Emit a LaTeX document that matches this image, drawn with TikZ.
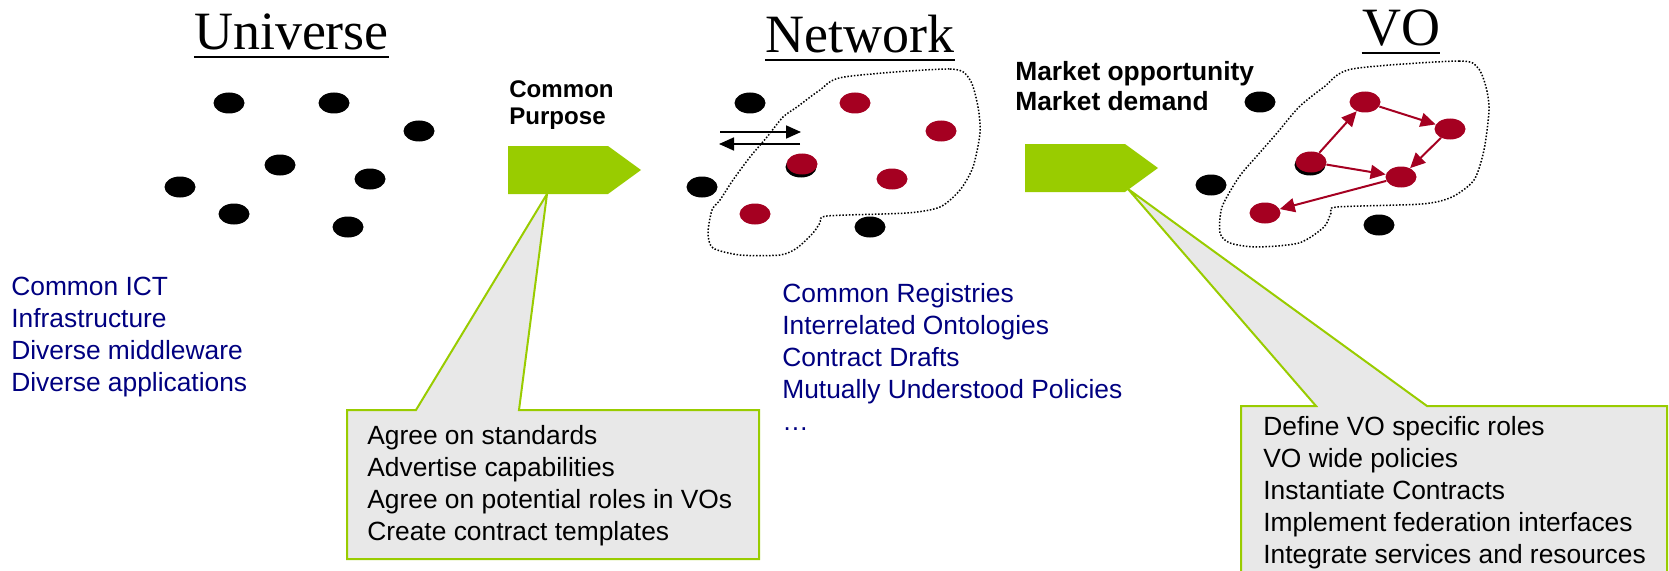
\documentclass[tikz,border=0pt]{standalone}
\usepackage{fontspec}
\setmainfont{Liberation Sans}
\newfontfamily\titlefont{Liberation Serif}
\usetikzlibrary{shapes.geometric,arrows.meta}

\definecolor{leaf}{RGB}{153,204,0}
\definecolor{wine}{RGB}{165,0,33}
\definecolor{navy}{RGB}{0,0,128}
\definecolor{bubble}{RGB}{232,232,232}

\begin{document}
\begin{tikzpicture}[x=0.2mm,y=-0.2mm,
    blackdot/.style={ellipse,fill=black,inner sep=0,minimum width=6.2mm,minimum height=4.2mm},
    reddot/.style={blackdot,fill=wine},
    heading/.style={font=\titlefont\fontsize{30.7}{36}\selectfont,inner sep=0,anchor=base},
    note/.style={font=\fontsize{15}{18.2}\selectfont,align=left,inner sep=0,anchor=base west},
    lead/.style={note,font=\bfseries\fontsize{15}{17.6}\selectfont},
    fence/.style={line width=0.3mm,dash pattern=on 0.3mm off 0.35mm},
    bubbleline/.style={fill=bubble,draw=leaf,line width=0.4mm},
    link/.style={wine,line width=0.4mm,-{Triangle[length=3mm,width=2.8mm]}},
    swap/.style={line width=0.35mm,-{Triangle[length=3mm,width=2.6mm]}}]
\useasboundingbox (0,0) rectangle (1669,571);

% callouts below the green arrows
\filldraw[bubbleline] (347,410) -- (416,410) -- (547,194) -- (519,410)
    -- (759,410) -- (759,559) -- (347,559) -- cycle;
\filldraw[bubbleline] (1241,406) -- (1316,406) -- (1128,189) -- (1427,406)
    -- (1667,406) -- (1667,590) -- (1241,590) -- cycle;

% green arrows
\fill[leaf] (508,146) -- (608,146) -- (641,170) -- (608,194) -- (508,194) -- cycle;
\fill[leaf] (1025,144) -- (1125,144) -- (1158,168) -- (1125,192) -- (1025,192) -- cycle;

% headings
\node[heading] (huniv) at (291.5,50) {Universe};
\node[heading] (hnet) at (860,53) {Network};
\node[heading] (hvo) at (1401,46) {VO};
\foreach \h in {huniv,hnet,hvo}
    \draw[line width=0.45mm] ([yshift=-1.4mm]\h.base west) -- ([yshift=-1.4mm]\h.base east);

% universe
\foreach \x/\y/\n in {229/103/1, 334/103/2, 419/131/3, 280/165/4,
                      370/179/5, 180/187/6, 234/214/7, 348/227/8}
    \node[blackdot] (u\n) at (\x,\y) {};

% network
\draw[fence] plot[smooth cycle,tension=0.45] coordinates {
    (844,77) (950,69) (970,80) (978,107) (980,133) (973,167) (960,190)
    (940,207) (907,213) (827,216) (820,223) (813,233) (797,248) (780,255)
    (740,255) (713,248) (708,233) (712,210) (720,200) (733,180) (750,157)
    (767,137) (783,117) (797,107) (820,90)};
\foreach \x/\y/\n in {750/103/1, 702/187/2, 870/227/3, 801/167/4}
    \node[blackdot] (n\n) at (\x,\y) {};
\foreach \x/\y/\n in {855/103/a, 941/131/b, 802/164/c, 892/179/d, 755/214/e}
    \node[reddot] (n\n) at (\x,\y) {};
\coordinate (inL) at (720,132);
\coordinate (inR) at (801,132);
\coordinate (outR) at (800,144);
\coordinate (outL) at (719,144);
\draw[swap] (inL) -- (inR);
\draw[swap] (outR) -- (outL);

% virtual organisation
\draw[fence] plot[smooth cycle,tension=0.45] coordinates {
    (1352,69) (1459,61) (1478,68) (1486,87) (1489,110) (1484,150) (1474,180)
    (1452,197) (1422,204) (1337,207) (1331,213) (1324,227) (1299,243)
    (1256,247) (1230,243) (1220,233) (1222,207) (1239,177) (1256,157)
    (1277,133) (1299,107) (1324,87)};
\foreach \x/\y/\n in {1260/102/1, 1211/185/2, 1379/225/3, 1310/165/4}
    \node[blackdot] (v\n) at (\x,\y) {};
\foreach \x/\y/\n in {1365/102/a, 1450/129/b, 1311/162/c, 1401/177/d, 1265/213/e}
    \node[reddot] (v\n) at (\x,\y) {};
\foreach \s/\t in {c/a, a/b, b/d, c/d, d/e}
    \draw[link] (v\s) -- (v\t);

% labels, placed by the baseline of their last line
\node[lead,font=\bfseries\fontsize{13.7}{15.9}\selectfont] (purpose) at (509,125) {Common\\Purpose};
\node[lead] (market) at (1015,111) {Market opportunity\\Market demand};
\node[note,text=navy] (ict) at (11,391)
    {Common ICT\\Infrastructure\\Diverse middleware\\Diverse applications};
\node[note,text=navy] (registry) at (782,430)
    {Common Registries\\Interrelated Ontologies\\Contract Drafts\\Mutually Understood Policies\\…};
\node[note] (agree) at (367,540)
    {Agree on standards\\Advertise capabilities\\Agree on potential roles in VOs\\Create contract templates};
\node[note] (define) at (1263,563)
    {Define VO specific roles\\VO wide policies\\Instantiate Contracts\\Implement federation interfaces\\Integrate services and resources};
\end{tikzpicture}
\end{document}
